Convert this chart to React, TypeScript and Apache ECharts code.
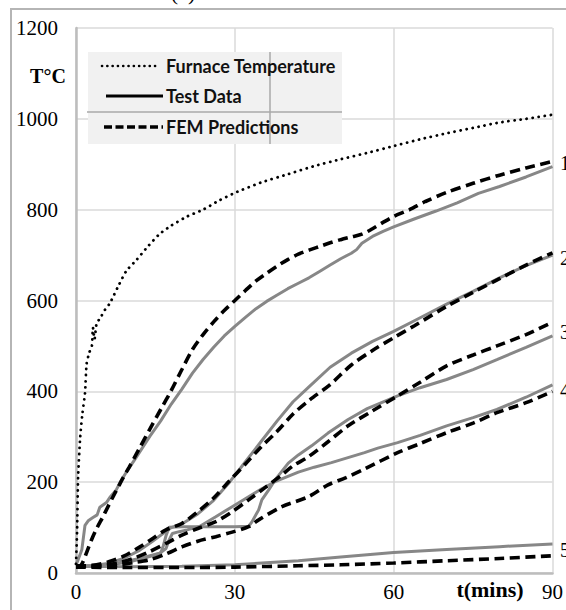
import React, { useEffect, useRef } from "react";
import * as echarts from "echarts";

// X and Y ticks
const xTicks = { min: 0, max: 90, interval: 30 };
const yTicks = { min: 0, max: 1200, interval: 200 };

// Furnace temperature (dotted)
const furnaceT = [0, 0.2, 0.4, 0.8, 1.2, 1.7, 2, 2.5, 3, 3.2, 3.5, 3.9, 4.5, 5.5, 6.4, 8, 9.5, 11.4, 13.5, 15.75, 18, 21, 24, 27, 30, 35, 40, 45, 50, 55, 60, 65, 70, 75, 80, 85, 90];
const furnaceV = [20, 90, 212, 300, 350, 396, 460, 485, 500, 540, 515, 550, 560, 580, 594, 632, 665, 689, 718, 746, 765, 785, 800, 820, 837, 860, 878, 896, 911, 925, 940, 955, 968, 980, 992, 1000, 1009];

// Curve 1
const fem1T = [0, 1, 2, 3, 4, 5, 6, 7, 8, 9, 10, 12, 14, 16, 18, 20, 22, 24, 26, 28, 30, 32, 34, 36, 38, 40, 42, 44, 46, 48, 50, 52, 54, 56, 58, 60, 63, 66, 70, 75, 80, 85, 90];
const fem1V = [15, 18, 45, 75, 100, 122, 145, 168, 190, 212, 232, 275, 318, 360, 402, 448, 492, 525, 553, 578, 600, 622, 643, 660, 676, 690, 702, 711, 719, 727, 734, 740, 746, 758, 772, 785, 800, 818, 838, 858, 876, 892, 906];
const test1T = [0, 0.4, 1.1, 1.7, 2.3, 3.2, 4, 4.5, 5.75, 6.5, 7.6, 8.5, 9.5, 11, 12.5, 14, 16, 18, 20, 22, 24, 26, 28, 30, 32, 34, 36, 38, 40, 42, 44, 46, 48, 50, 52, 53, 54, 56, 58, 60, 64, 68, 72, 76, 80, 85, 90];
const test1V = [18, 29, 51, 105, 115, 122, 128, 145, 155, 168, 183, 203, 222, 248, 275, 302, 335, 372, 405, 440, 470, 497, 522, 543, 563, 582, 598, 612, 626, 638, 650, 664, 678, 692, 704, 712, 726, 741, 752, 762, 780, 797, 815, 836, 851, 872, 895];

// Curve 2
const fem2T = [0, 3, 6, 9, 12, 14, 17, 20, 23, 26, 29, 32, 35, 38, 41, 44, 48, 52, 56, 60, 64, 70, 75, 80, 85, 90];
const fem2V = [15, 17, 24, 37, 57, 72, 95, 109, 135, 165, 203, 240, 278, 312, 350, 380, 415, 458, 490, 518, 545, 587, 618, 648, 678, 705];
const test2T = [0, 3, 6, 9, 12, 14, 16, 18, 20, 23, 26, 29, 32, 35, 38, 41, 44, 48, 52, 56, 60, 64, 70, 75, 80, 85, 90];
const test2V = [15, 16, 21, 32, 50, 66, 83, 100, 108, 130, 160, 200, 245, 290, 335, 377, 410, 453, 484, 510, 532, 556, 592, 620, 650, 677, 700];

// Curve 3
const fem3T = [0, 4, 8, 11, 13.9, 17, 20.1, 23, 26.4, 29.5, 32.6, 35.7, 38.9, 41, 43.9, 47.6, 51.4, 56, 60.75, 65, 70, 75, 79.5, 85, 90];
const fem3V = [15, 16, 22, 33, 47, 65, 84, 98, 113, 135, 161, 188, 216, 236, 256, 289, 324, 357, 390, 420, 456, 480, 500, 525, 552];
const test3T = [0, 4, 8, 12, 14, 16, 16.5, 17, 17.6, 20, 25, 30, 32.6, 33.2, 34.5, 35.1, 36.4, 37.6, 40.1, 42, 44.5, 47.6, 51.4, 55, 60.75, 65, 70, 75, 79.5, 85, 90];
const test3V = [15, 16, 22, 32, 38, 44, 60, 82, 101, 102, 102, 102, 103, 112, 139, 161, 183, 205, 242, 260, 280, 308, 338, 362, 390, 408, 426, 448, 470, 497, 522];

// Curve 4
const fem4T = [0, 4, 8, 11, 13.9, 17, 20.1, 23, 26.4, 29.5, 32.6, 34.5, 38.9, 43.9, 47.6, 51, 54.5, 60.75, 65, 70, 75, 79.5, 85, 90];
const fem4V = [15, 15, 18, 23, 29, 42, 58, 70, 80, 90, 102, 117, 146, 168, 194, 210, 229, 265, 285, 309, 330, 353, 375, 400];
const test4T = [0, 5, 10, 13.9, 15.75, 17, 17.6, 18.2, 19.5, 21, 23.25, 26.4, 29.5, 32.6, 35, 37.6, 42, 45, 48.25, 54.5, 57, 60.75, 65, 70, 75, 79.5, 85, 90];
const test4V = [15, 16, 24, 36, 43, 54, 73, 87, 91, 95, 102, 124, 146, 168, 185, 201, 222, 233, 243, 265, 275, 287, 303, 324, 342, 360, 387, 414];

// Curve 5
const fem5T = [0, 10, 20, 30, 42, 50, 60, 70, 80, 90];
const fem5V = [13, 12, 12, 13, 16, 18, 22, 27, 32, 38];
const test5T = [0, 10, 20, 30, 42, 50, 60, 70, 80, 90];
const test5V = [15, 14, 15, 18, 27, 35, 45, 52, 58, 64];

// Labels
const legendLabels = ["Furnace Temperature", "Test Data", "FEM Predictions"];
const curveLabels = ["1", "2", "3", "4", "5"];
const curveLabelY = [163, 258, 332, 390, 550];

const zip = (t: number[], v: number[]) => t.map((x, i) => [x, v[i]]);

const GRAY = "#878787";
const SERIF = '"Liberation Serif", "Times New Roman", serif';

export default function App() {
  const ref = useRef<HTMLDivElement>(null);
  useEffect(() => {
    if (!ref.current) return;
    const chart = echarts.init(ref.current, undefined, { renderer: "svg" });

    const testSeries = (name: string, t: number[], v: number[]) => ({
      name,
      type: "line",
      data: zip(t, v),
      symbol: "none",
      smooth: false,
      lineStyle: { color: GRAY, width: 3 },
      z: 2,
    });
    const femSeries = (name: string, t: number[], v: number[]) => ({
      name,
      type: "line",
      data: zip(t, v),
      symbol: "none",
      smooth: 0.3,
      lineStyle: { color: "#000", width: 3.6, type: [10, 5.5] },
      z: 3,
    });

    const legendGraphics: any[] = [
      { type: "rect", shape: { x: 88, y: 52, width: 254, height: 92 }, style: { fill: "#f1f1f1" }, z: 10 },
      { type: "line", shape: { x1: 270, y1: 52, x2: 270, y2: 144 }, style: { stroke: "#a8a8a8", lineWidth: 1.5 }, z: 11 },
      { type: "line", shape: { x1: 87, y1: 112, x2: 342, y2: 112 }, style: { stroke: "#a8a8a8", lineWidth: 1.5 }, z: 11 },
      { type: "line", shape: { x1: 102, y1: 66, x2: 160, y2: 66 }, style: { stroke: "#000", lineWidth: 2.6, lineDash: [0.1, 5.2], lineCap: "round" }, z: 12 },
      { type: "line", shape: { x1: 106, y1: 96, x2: 163, y2: 96 }, style: { stroke: "#000", lineWidth: 3 }, z: 12 },
      { type: "line", shape: { x1: 104, y1: 127, x2: 163, y2: 127 }, style: { stroke: "#000", lineWidth: 3.4, lineDash: [8, 3.5] }, z: 12 },
    ];
    [66, 96, 127].forEach((y, i) => {
      legendGraphics.push({
        type: "text",
        x: 166,
        y,
        style: { text: legendLabels[i], font: 'bold 18px "Lato", "Open Sans", sans-serif', fill: "#111", align: "left", verticalAlign: "middle" },
        z: 12,
      });
    });

    const curveLabelGraphics = curveLabels.map((s, i) => ({
      type: "text",
      x: 560,
      y: curveLabelY[i],
      style: { text: s, font: `20px ${SERIF}`, fill: "#000", align: "left", verticalAlign: "middle" },
      z: 12,
    }));

    chart.setOption({
      animation: false,
      backgroundColor: "#fff",
      grid: { left: 76, top: 28, width: 480, height: 545, containLabel: false },
      xAxis: {
        type: "value",
        min: xTicks.min,
        max: xTicks.max,
        interval: xTicks.interval,
        axisLine: { show: true, onZero: false, lineStyle: { color: "#bdbdbd", width: 2.5 } },
        axisTick: { show: false },
        splitLine: { show: true, lineStyle: { color: "#dadada", width: 1.5 } },
        axisLabel: { fontFamily: SERIF, fontSize: 21, color: "#000", margin: 8, formatter: (v: number) => String(v) },
      },
      yAxis: {
        type: "value",
        min: yTicks.min,
        max: yTicks.max,
        interval: yTicks.interval,
        axisLine: { show: true, lineStyle: { color: "#bdbdbd", width: 2.5 } },
        axisTick: { show: false },
        splitLine: { show: true, lineStyle: { color: "#dadada", width: 1.5 } },
        axisLabel: { fontFamily: SERIF, fontSize: 21, color: "#000", margin: 18, formatter: (v: number) => String(v) },
      },
      series: [
        testSeries("Test 1", test1T, test1V),
        testSeries("Test 2", test2T, test2V),
        testSeries("Test 3", test3T, test3V),
        testSeries("Test 4", test4T, test4V),
        testSeries("Test 5", test5T, test5V),
        femSeries("FEM 1", fem1T, fem1V),
        femSeries("FEM 2", fem2T, fem2V),
        femSeries("FEM 3", fem3T, fem3V),
        femSeries("FEM 4", fem4T, fem4V),
        femSeries("FEM 5", fem5T, fem5V),
        {
          name: "Furnace Temperature",
          type: "line",
          data: zip(furnaceT, furnaceV),
          symbol: "none",
          smooth: 0.2,
          lineStyle: { color: "#000", width: 2.8, type: [0.1, 6], cap: "round" },
          z: 4,
        },
      ],
      graphic: [
        { type: "rect", shape: { x: 11, y: 9, width: 700, height: 700 }, style: { fill: "none", stroke: "#b5b5b5", lineWidth: 2 }, z: 1 },
        { type: "text", x: 183, y: 3, style: { text: "(a)", font: `22px ${SERIF}`, fill: "#000", align: "center", verticalAlign: "bottom" }, z: 12 },
        { type: "text", x: 48, y: 76, style: { text: "T°C", font: `bold 20px ${SERIF}`, fill: "#000", align: "center", verticalAlign: "middle" }, z: 12 },
        { type: "text", x: 490, y: 589, style: { text: "t(mins)", font: `bold 22px ${SERIF}`, fill: "#000", align: "center", verticalAlign: "middle" }, z: 12 },
        ...legendGraphics,
        ...curveLabelGraphics,
      ],
    });
    return () => chart.dispose();
  }, []);

  return <div ref={ref} style={{ position: "absolute", left: 0, top: 0, width: 566, height: 610 }} />;
}
